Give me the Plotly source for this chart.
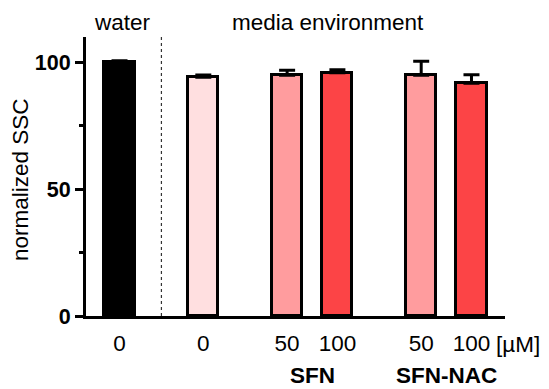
import plotly.graph_objects as go

# data
positions = [0, 5, 10, 13, 18, 21]
values = [100.0, 94.1, 94.9, 95.9, 94.9, 91.8]
errors = [0.6, 0.9, 2.0, 1.2, 5.5, 3.3]
tick_labels = ["0", "0", "50", "100", "50", "100"]
colors = ["#000000", "#FFDFE0", "#FF9C9E", "#FC4446", "#FF9C9E", "#FC4446"]

FONT = "Liberation Sans, Arial, sans-serif"
FS = 22.5

fig = go.Figure()
fig.add_trace(go.Bar(
    x=positions, y=values, width=1.8,
    marker=dict(color=colors, line=dict(color="black", width=3)),
    error_y=dict(type="data", array=errors, arrayminus=[0]*len(errors), symmetric=False,
                 color="black", thickness=3, width=8),
    showlegend=False,
))

fig.add_shape(type="line", x0=2.5, x1=2.5, y0=0, y1=110, xref="x", yref="y",
              line=dict(color="#333333", width=1.2, dash="dot"), layer="below")

fig.update_layout(
    width=549, height=389,
    margin=dict(l=86, r=44, t=37, b=73),
    plot_bgcolor="white", paper_bgcolor="white",
    font=dict(family=FONT, size=FS, color="black"),
    xaxis=dict(range=[-2, 23], tickvals=positions, ticktext=tick_labels,
               showline=True, linecolor="black", linewidth=3, ticks="",
               ticklabelstandoff=5,
               showgrid=False, zeroline=False, tickfont=dict(size=FS)),
    yaxis=dict(range=[0, 110], tickvals=[0, 50, 100],
               ticktext=["<b>0</b>", "<b>50</b>", "<b>100</b>"],
               showline=True, linecolor="black", linewidth=3,
               ticks="outside", ticklen=8, tickwidth=3, tickcolor="black",
               minor=dict(tickvals=[25, 75], ticks="outside", ticklen=4, tickwidth=3, tickcolor="black"),
               showgrid=False, zeroline=False, tickfont=dict(size=FS - 1)),
    bargap=0,
)

ann = [
    dict(text="water", x=0.2, y=(316-23)/279, xref="x", yref="paper"),
    dict(text="media environment", x=12.44, y=(316-23)/279, xref="x", yref="paper"),
    dict(text="[µM]", x=(518-86)/419, y=(316-344)/279, xref="paper", yref="paper"),
    dict(text="<b>SFN</b>", x=11.5, y=(316-375)/279, xref="x", yref="paper"),
    dict(text="<b>SFN-NAC</b>", x=19.5, y=(316-375)/279, xref="x", yref="paper"),
    dict(text="normalized SSC", x=(20-86)/419, y=(316-180)/279, xref="paper", yref="paper", textangle=-90),
]
for a in ann:
    fig.add_annotation(showarrow=False, xanchor="center", yanchor="middle", borderpad=0,
                       font=dict(family=FONT, size=FS, color="black"), **a)

fig.write_html("out.html", config={"displayModeBar": False},
               post_script="document.body.style.margin='0';document.body.style.padding='0';")
